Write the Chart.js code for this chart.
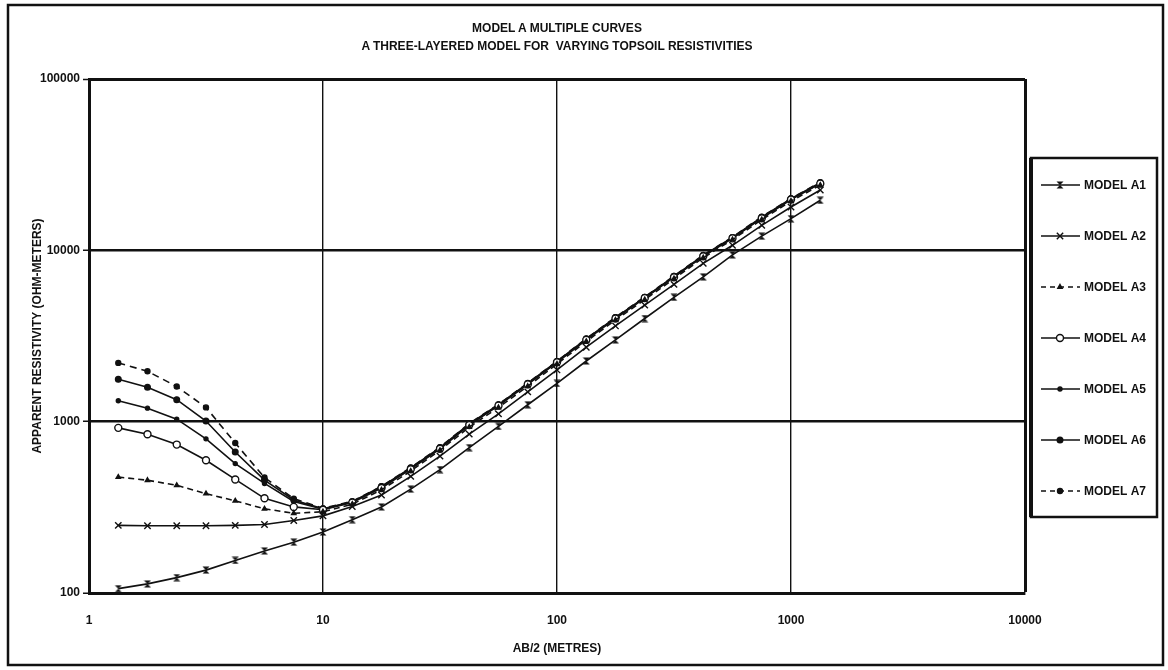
<!DOCTYPE html>
<html>
<head>
<meta charset="utf-8">
<script src="https://cdn.jsdelivr.net/npm/chart.js@4/dist/chart.umd.min.js"></script>
<style>
  html, body { margin: 0; padding: 0; background: #fff; }
  #wrap { position: relative; width: 1168px; height: 670px; }
  #title {
    position: absolute; left: 89px; width: 936px; top: 19px;
    text-align: center; font: bold 12px "Liberation Sans", Arial, sans-serif;
    line-height: 18px; color: #111;
  }
  canvas { position: absolute; left: 0; top: 0; }
</style>
</head>
<body>
<div id="wrap">
  <canvas id="chart" width="1168" height="670"></canvas>
  <div id="title">MODEL A MULTIPLE CURVES<br>A THREE-LAYERED MODEL FOR&nbsp; VARYING TOPSOIL RESISTIVITIES</div>
</div>
<script>
// electrode spacing AB/2 (metres), 8 points per decade
const abHalf = [1.334, 1.778, 2.371, 3.162, 4.217, 5.623, 7.499, 10, 13.34, 17.78, 23.71, 31.62, 42.17,
  56.23, 74.99, 100, 133.4, 177.8, 237.1, 316.2, 421.7, 562.3, 749.9, 1000, 1334];

// apparent resistivity (ohm-m)
const modelA1 = [106, 113, 123, 136, 155, 176, 198, 227, 268, 318, 404, 525, 705, 938, 1255, 1672,
  2260, 3000, 4000, 5320, 7000, 9400, 12100, 15300, 19600];
const modelA2 = [248, 247, 247, 247, 248, 251, 265, 282, 320, 373, 479, 629, 846, 1110, 1493, 2004,
  2720, 3620, 4790, 6330, 8400, 10700, 14000, 17900, 22500];
const modelA3 = [475, 455, 425, 380, 345, 310, 292, 298, 330, 400, 515, 680, 930, 1210, 1610, 2170,
  2940, 3920, 5150, 6830, 9050, 11550, 15100, 19400, 24000];
const modelA4 = [920, 845, 735, 595, 460, 357, 318, 306, 337, 410, 528, 695, 955, 1240, 1650, 2220,
  3000, 4000, 5260, 6970, 9230, 11750, 15400, 19800, 24500];
const modelA5 = [1325, 1199, 1034, 794, 569, 436, 342, 309, 340, 415, 533, 700, 962, 1248, 1660, 2235,
  3020, 4030, 5290, 7010, 9290, 11820, 15500, 19900, 24650];
const modelA6 = [1766, 1588, 1344, 1009, 665, 456, 349, 310, 341, 418, 537, 705, 969, 1255, 1671, 2245,
  3040, 4050, 5320, 7050, 9340, 11890, 15600, 20000, 24800];
const modelA7 = [2203, 1969, 1604, 1211, 750, 472, 355, 312, 343, 420, 540, 710, 975, 1262, 1680, 2255,
  3055, 4070, 5350, 7090, 9390, 11950, 15700, 20100, 24950];

const seriesNames = ["MODEL A1", "MODEL A2", "MODEL A3", "MODEL A4", "MODEL A5", "MODEL A6", "MODEL A7"];
const xTicks = [1, 10, 100, 1000, 10000];
const yTicks = [100, 1000, 10000, 100000];

const INK = "#111";
const FONT = "'Liberation Sans', Arial, sans-serif";

// hourglass marker used by model A1
function hourglass() {
  const c = document.createElement("canvas");
  c.width = 8; c.height = 8;
  const g = c.getContext("2d");
  g.fillStyle = INK;
  g.beginPath();
  g.moveTo(0.5, 0.5); g.lineTo(7.5, 0.5); g.lineTo(0.5, 7.5); g.lineTo(7.5, 7.5);
  g.closePath();
  g.fill();
  return c;
}

const styles = [
  { pointStyle: hourglass(), pointRadius: 4, borderDash: [] },
  { pointStyle: "crossRot", pointRadius: 4.5, borderDash: [] },
  { pointStyle: "triangle", pointRadius: 2.5, borderDash: [6, 4] },
  { pointStyle: "circle", pointRadius: 3.5, borderDash: [], fill: "#fff" },
  { pointStyle: "circle", pointRadius: 2, borderDash: [] },
  { pointStyle: "circle", pointRadius: 2.8, borderDash: [] },
  { pointStyle: "circle", pointRadius: 2.5, borderDash: [7, 5] },
];

const series = [modelA1, modelA2, modelA3, modelA4, modelA5, modelA6, modelA7];

const datasets = series.map((vals, i) => ({
  label: seriesNames[i],
  data: abHalf.map((x, j) => ({ x: x, y: vals[j] })),
  borderColor: INK,
  borderWidth: 1.6,
  borderDash: styles[i].borderDash,
  pointStyle: styles[i].pointStyle,
  pointRadius: styles[i].pointRadius,
  pointBackgroundColor: styles[i].fill || INK,
  pointBorderColor: INK,
  pointBorderWidth: 1.4,
  tension: 0,
}));

// outer frame + boxed legend with line samples
const paperBits = {
  id: "paperBits",
  beforeDraw(chart) {
    const ctx = chart.ctx;
    ctx.save();
    ctx.fillStyle = "#fff";
    ctx.fillRect(0, 0, chart.width, chart.height);
    ctx.strokeStyle = INK;
    ctx.lineWidth = 2.5;
    ctx.strokeRect(8, 5, 1155, 660);
    ctx.restore();
  },
  afterDraw(chart) {
    const ctx = chart.ctx;
    const area = chart.chartArea;
    const left = area.right + 6, top = 158, w = 126, h = 359;
    ctx.save();
    ctx.strokeStyle = INK;
    ctx.lineWidth = 2.5;
    ctx.strokeRect(left, top, w, h);
    ctx.lineWidth = 4;
    ctx.beginPath(); ctx.moveTo(left, top); ctx.lineTo(left, top + h); ctx.stroke();

    ctx.font = "bold 12px " + FONT;
    ctx.textBaseline = "middle";
    chart.data.datasets.forEach((ds, i) => {
      const y = top + 27 + i * 51;
      ctx.strokeStyle = INK;
      ctx.lineWidth = ds.borderWidth;
      ctx.setLineDash(ds.borderDash.length ? [5, 4] : []);
      ctx.beginPath(); ctx.moveTo(left + 10, y); ctx.lineTo(left + 49, y); ctx.stroke();
      ctx.setLineDash([]);
      ctx.fillStyle = ds.pointBackgroundColor;
      ctx.lineWidth = ds.pointBorderWidth;
      Chart.helpers.drawPoint(ctx, {
        pointStyle: ds.pointStyle, radius: ds.pointRadius, rotation: 0, borderWidth: ds.pointBorderWidth
      }, left + 29, y);
      ctx.fillStyle = INK;
      ctx.fillText(ds.label, left + 53, y + 1);
    });
    ctx.restore();
  }
};

new Chart(document.getElementById("chart"), {
  type: "line",
  data: { datasets: datasets },
  plugins: [paperBits],
  options: {
    responsive: false,
    animation: false,
    layout: { padding: { top: 79, right: 143, bottom: 0, left: 0 } },
    plugins: {
      legend: { display: false },
      tooltip: { enabled: false },
    },
    scales: {
      x: {
        type: "logarithmic",
        min: 1,
        max: 10000,
        afterBuildTicks: (scale) => { scale.ticks = xTicks.map((v) => ({ value: v })); },
        afterFit: (scale) => { scale.height = 77; },
        ticks: {
          color: INK,
          font: { family: FONT, size: 12, weight: "bold" },
          padding: 20,
          maxRotation: 0,
          callback: (v) => String(v),
        },
        grid: {
          color: INK,
          lineWidth: (ctx) => (ctx.tick && ctx.tick.value === 10000 ? 3 : 1.4),
          drawTicks: false,
        },
        border: { color: INK, width: 3 },
        title: {
          display: true,
          text: "AB/2 (METRES)",
          color: INK,
          font: { family: FONT, size: 12, weight: "bold" },
          padding: { top: 0, bottom: 14 },
        },
      },
      y: {
        type: "logarithmic",
        min: 100,
        max: 100000,
        afterBuildTicks: (scale) => { scale.ticks = yTicks.map((v) => ({ value: v })); },
        afterFit: (scale) => { scale.width = 89; },
        ticks: {
          color: INK,
          font: { family: FONT, size: 12, weight: "bold" },
          padding: 3,
          callback: (v) => String(v),
        },
        grid: {
          color: INK,
          lineWidth: (ctx) => (ctx.tick && ctx.tick.value === 100000 ? 3 : 2.5),
          tickLength: 6,
          tickWidth: 1.5,
        },
        border: { color: INK, width: 3 },
        title: {
          display: true,
          text: "APPARENT RESISTIVITY (OHM-METERS)",
          color: INK,
          font: { family: FONT, size: 12, weight: "bold" },
          padding: { top: 30, bottom: 0 },
        },
      },
    },
  },
});
</script>
</body>
</html>
